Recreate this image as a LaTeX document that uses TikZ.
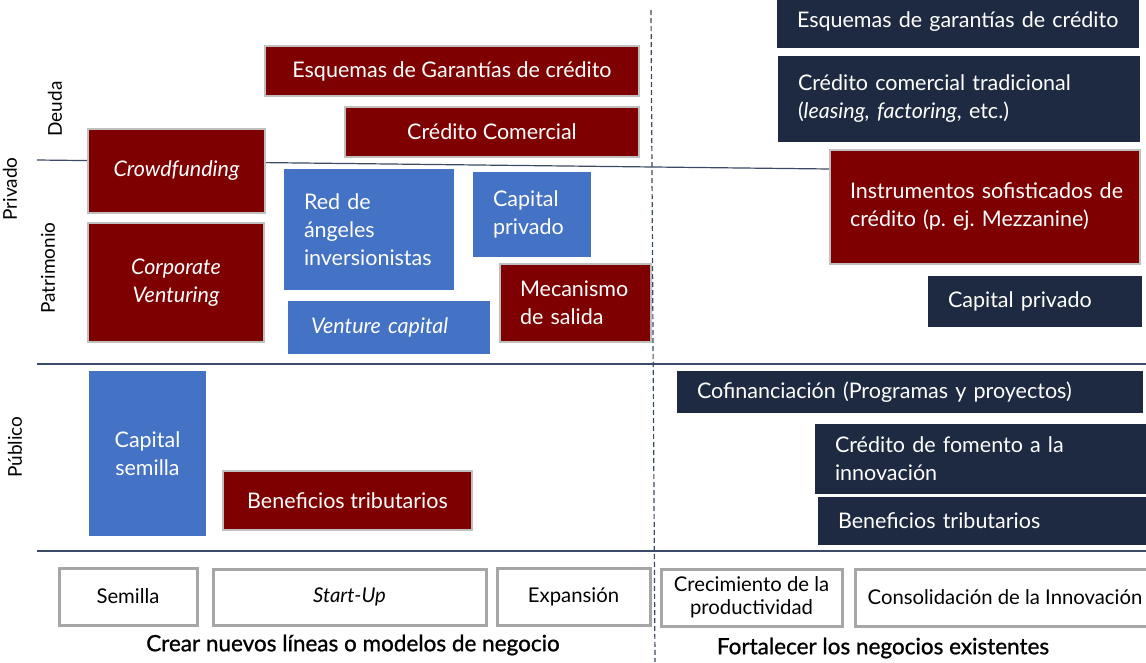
\documentclass[tikz,border=0pt]{standalone}
\usepackage{fontspec}
\setmainfont{Lato}
\newfontfamily\capfont[FakeBold=1]{Lato}
\usetikzlibrary{positioning}
\definecolor{cred}{HTML}{7F0000}
\definecolor{cblue}{HTML}{4472C4}
\definecolor{cnavy}{HTML}{1E2A42}
\definecolor{cedge}{HTML}{BFBFBF}
\definecolor{cstage}{HTML}{A6A6A6}
\definecolor{cline}{HTML}{3B4A66}
\newcommand\bxfont{\fontsize{21.5}{28}\selectfont}
\newcommand\stfont{\fontsize{20.3}{23}\selectfont}
\frenchspacing
\hyphenpenalty=10000
\exhyphenpenalty=10000
\hbadness=10000
\hfuzz=30pt

\begin{document}
\begin{tikzpicture}[x=1pt, y=-1pt,
        every node/.style={inner sep=0pt},
        sz/.style 2 args={minimum width=#1pt, minimum height=#2pt},
        lefttext/.style={align=left, text width=#1pt},
        redbox/.style={rectangle, fill=cred, draw=cedge, line width=1.5pt, text=white, font=\bxfont, align=center},
        bluebox/.style={rectangle, fill=cblue, text=white, font=\bxfont, align=center},
        navybox/.style={rectangle, fill=cnavy, text=white, font=\bxfont, align=center},
        stagebox/.style={rectangle, fill=white, draw=cstage, line width=3pt, font=\stfont, align=center},
        axislabel/.style={rotate=90, font=\fontsize{19}{22}\selectfont},
        caption/.style={font=\capfont\fontsize{22.5}{26}\selectfont},
        sepline/.style={draw=cline, line width=1.2pt},
        dashline/.style={draw=cline, line width=1.2pt, dash pattern=on 5pt off 3pt},
    ]
    \useasboundingbox (0,0) rectangle (1146,662);

    % Separators
    \draw[sepline] (37,160) -- (830,169);
    \draw[sepline] (37,364) -- (1146,364);
    \draw[sepline] (37,551) -- (1146,551);
    \draw[dashline] (651,10) -- (655,662);

    % Row labels
    \node[axislabel] (privado) at (10,189) {Privado};
    \node[axislabel] (deuda) at (55,109) {Deuda};
    \node[axislabel] (patrim) at (48,268) {Patrimonio};
    \node[axislabel] (publico) at (15,447) {Público};

    % Private -- new business
    \node[redbox, sz={374}{50}] (garred) at (452,71) {Esquemas de Garantías de crédito};
    \node[redbox, sz={294}{50}] (credcom) at (492,132) {Crédito Comercial};
    \node[redbox, sz={177}{84}, font=\bxfont\itshape] (crowd) at (176.5,171) {Crowdfunding};
    \node[redbox, sz={176}{119}, font=\bxfont\itshape] (corpven) at (176,282.5) {Corporate\\Venturing};
    \node[bluebox, sz={170}{121}, lefttext=130] (angeles) at (369,229.5) {Red de\\ángeles\\inversionistas};
    \node[bluebox, sz={118}{85}, lefttext=78] (capblue) at (532,214.5) {Capital\\privado};
    \node[bluebox, sz={202}{53}, lefttext=156] (venture) at (389,327.5) {\textit{Venture capital}};
    \node[redbox, sz={151}{78}, lefttext=111] (salida) at (575.5,303) {Mecanismo\\de salida};

    % Private -- existing business
    \node[navybox, sz={362}{52}, lefttext=322] (garnav) at (958,22) {Esquemas de garantías de crédito};
    \node[navybox, sz={362}{86}, lefttext=322] (credtrad) at (959,99) {Crédito comercial tradicional\\(\textit{leasing, factoring}, etc.)};
    \node[redbox, sz={310}{114}, lefttext=270] (instr) at (985,207) {\mbox{Instrumentos sofisticados de}\\\mbox{crédito (p. ej. Mezzanine)}};
    \node[navybox, sz={214}{51}, lefttext=174] (capnav) at (1035,301.5) {Capital privado};

    % Public
    \node[bluebox, sz={117}{165}] (semcap) at (147.5,453.5) {Capital\\semilla};
    \node[redbox, sz={249}{59}] (benred) at (347.5,500.5) {Beneficios tributarios};
    \node[navybox, sz={466}{42}, lefttext=426] (cofin) at (910,392) {Cofinanciación (Programas y proyectos)};
    \node[navybox, sz={336}{70}, lefttext=296] (fomento) at (983,459) {Crédito de fomento a la\\innovación};
    \node[navybox, sz={333}{48}, lefttext=293] (bennav) at (984.5,521) {Beneficios tributarios};

    % Stages
    \node[stagebox, sz={138}{57}] (semilla) at (128,596.5) {Semilla};
    \node[stagebox, sz={273}{56}, font=\stfont\itshape] (startup) at (349.5,597) {Start-Up};
    \node[stagebox, sz={153}{57}] (expansion) at (573.5,596.5) {Expansión};
    \node[stagebox, sz={181}{57}] (crecim) at (751.5,597.5) {Crecimiento de la\\productividad};
    \node[stagebox, sz={300}{57}] (consol) at (1005,597.5) {Consolidación de la Innovación};

    \node[caption] (crear) at (353,645) {Crear nuevos líneas o modelos de negocio};
    \node[caption] (fortal) at (883,648) {Fortalecer los negocios existentes};
\end{tikzpicture}
\end{document}
